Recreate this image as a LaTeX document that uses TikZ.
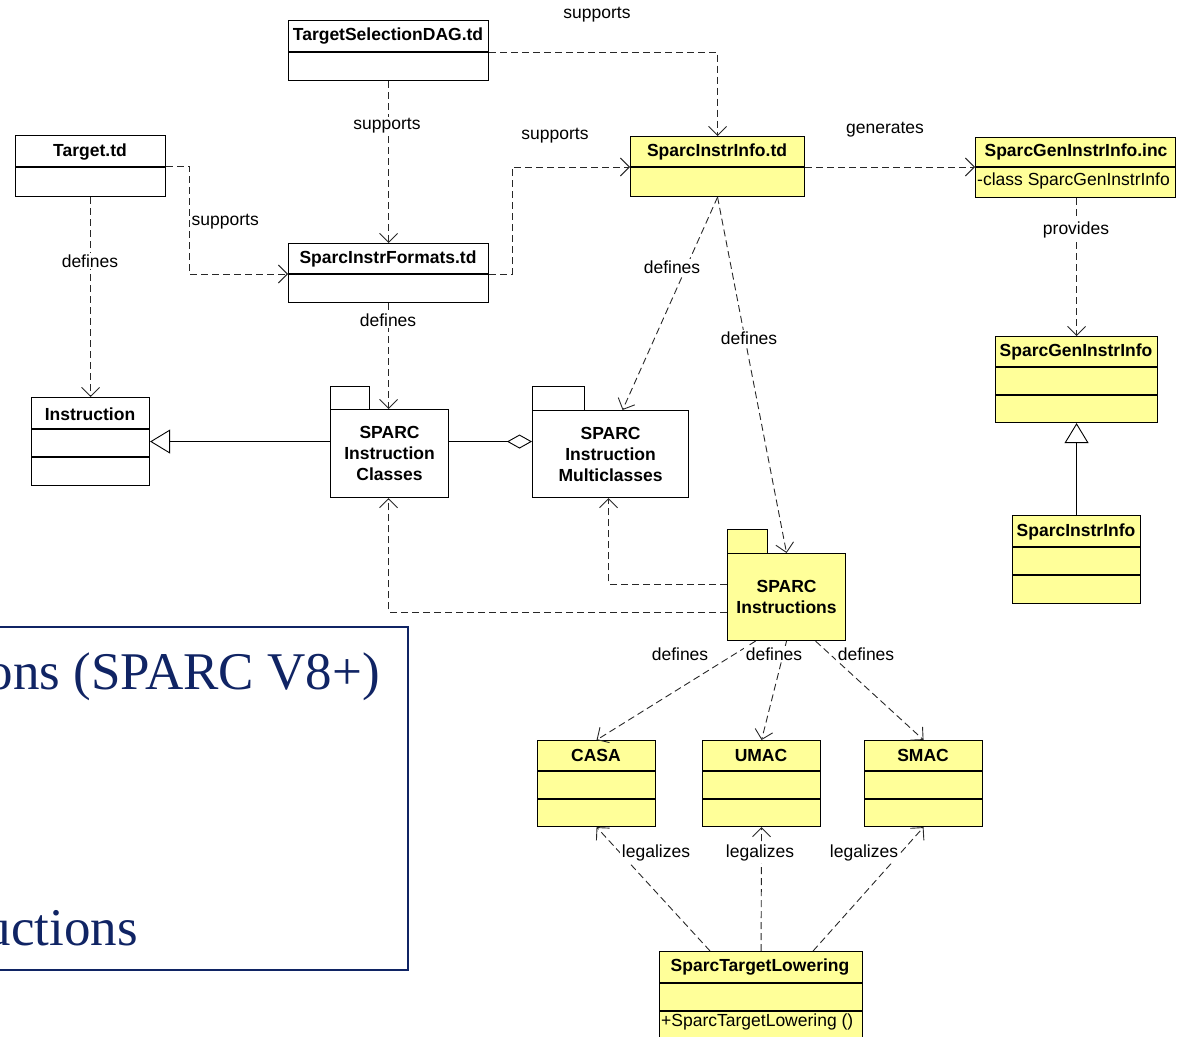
\documentclass[tikz,border=0pt]{standalone}
\usepackage{fontspec}
\setmainfont{Liberation Sans}
\newfontfamily\slideserif{Liberation Serif}
\usetikzlibrary{arrows.meta,calc}
\definecolor{ylw}{RGB}{255,255,153}
\definecolor{navy}{RGB}{16,36,100}
\definecolor{dgray}{RGB}{40,40,40}
\begin{document}
\begin{tikzpicture}[x=1pt,y=-1pt,
  every node/.style={font=\fontsize{17.5}{20}\selectfont},
  box/.style={draw=black, line width=1.1pt, inner sep=0pt, anchor=north west},
  ttl/.style={font=\fontsize{17.5}{20}\selectfont\bfseries, inner sep=0pt},
  pkg/.style={box, align=center, font=\fontsize{17.5}{21}\selectfont\bfseries},
  attr/.style={font=\fontsize{17.5}{20}\selectfont, inner sep=0pt, anchor=west},
  lbl/.style={fill=white, inner sep=1.5pt},
  divline/.style={line width=1.1pt},
  dep/.style={draw=dgray, line width=0.9pt, dash pattern=on 7pt off 4pt,
    -{Straight Barb[length=9pt,width=18pt]}},
  gen/.style={draw=black, line width=0.9pt, -{Triangle[open, length=20pt, width=24pt]}},
  agg/.style={draw=black, line width=0.9pt, -{Diamond[open, length=25pt, width=14pt]}},
]
\useasboundingbox (0,0) rectangle (1177,1036);
\clip (0,0) rectangle (1177,1036);

% ---------- left slide fragment ----------
\node[draw=navy, line width=1.8pt, minimum width=450pt, minimum height=343pt,
  inner sep=0pt, anchor=north east] (slide) at (409,626) {};
\node[anchor=base east, text=navy, inner sep=0pt,
  font=\slideserif\fontsize{53}{60}\selectfont] (slideA) at (380,689) {ons (SPARC V8+)};
\node[anchor=base east, text=navy, inner sep=0pt,
  font=\slideserif\fontsize{53}{60}\selectfont] (slideB) at (138,945) {uctions};

% ---------- class boxes ----------
\node[box, fill=white, minimum width=200pt, minimum height=60pt] (tsdag) at (288,20) {};
\node[ttl] (tsdagT) at (388,36) {TargetSelectionDAG.td};
\draw[divline] (288,52) -- (488,52);

\node[box, fill=white, minimum width=150pt, minimum height=61pt] (target) at (15,135) {};
\node[ttl] (targetT) at (90,152) {Target.td};
\draw[divline] (15,167) -- (165,167);

\node[box, fill=white, minimum width=200pt, minimum height=59pt] (sif) at (288,243) {};
\node[ttl] (sifT) at (388,259) {SparcInstrFormats.td};
\draw[divline] (288,274) -- (488,274);

\node[box, fill=ylw, minimum width=174pt, minimum height=60pt] (sii) at (630,136) {};
\node[ttl] (siiT) at (717,152) {SparcInstrInfo.td};
\draw[divline] (630,167) -- (804,167);

\node[box, fill=ylw, minimum width=200pt, minimum height=60pt] (sgiiinc) at (975,137) {};
\node[ttl] (sgiiincT) at (1076,152) {SparcGenInstrInfo.inc};
\draw[divline] (975,167) -- (1175,167);
\node[attr] (sgiiincA) at (977,181) {-class SparcGenInstrInfo};

\node[box, fill=ylw, minimum width=162pt, minimum height=86pt] (sgii) at (995,336) {};
\node[ttl] (sgiiT) at (1076,352) {SparcGenInstrInfo};
\draw[divline] (995,367) -- (1157,367);
\draw[divline] (995,395) -- (1157,395);

\node[box, fill=ylw, minimum width=128pt, minimum height=88pt] (spii) at (1012,515) {};
\node[ttl] (spiiT) at (1076,532) {SparcInstrInfo};
\draw[divline] (1012,547) -- (1140,547);
\draw[divline] (1012,575) -- (1140,575);

\node[box, fill=white, minimum width=118pt, minimum height=88pt] (instr) at (31,397) {};
\node[ttl] (instrT) at (90,414) {Instruction};
\draw[divline] (31,429) -- (149,429);
\draw[divline] (31,457) -- (149,457);

\node[box, fill=ylw, minimum width=118pt, minimum height=86pt] (casa) at (537,740) {};
\node[ttl] (casaT) at (596,755) {CASA};
\draw[divline] (537,771) -- (655,771);
\draw[divline] (537,799) -- (655,799);

\node[box, fill=ylw, minimum width=118pt, minimum height=86pt] (umac) at (702,740) {};
\node[ttl] (umacT) at (761,755) {UMAC};
\draw[divline] (702,771) -- (820,771);
\draw[divline] (702,799) -- (820,799);

\node[box, fill=ylw, minimum width=118pt, minimum height=86pt] (smac) at (864,740) {};
\node[ttl] (smacT) at (923,755) {SMAC};
\draw[divline] (864,771) -- (982,771);
\draw[divline] (864,799) -- (982,799);

\node[box, fill=ylw, minimum width=203pt, minimum height=100pt] (stl) at (659,951) {};
\node[ttl] (stlT) at (760,967) {SparcTargetLowering};
\draw[divline] (659,983) -- (862,983);
\draw[divline] (659,1011) -- (862,1011);
\node[attr] (stlA) at (661,1022) {+SparcTargetLowering ()};

% ---------- packages ----------
\node[box, fill=white, minimum width=39pt, minimum height=23pt] (clsTab) at (330,386) {};
\node[pkg, fill=white, minimum width=118pt, minimum height=88pt] (cls) at (330,409) {SPARC\\Instruction\\Classes};

\node[box, fill=white, minimum width=52pt, minimum height=24pt] (mclsTab) at (532,386) {};
\node[pkg, fill=white, minimum width=156pt, minimum height=87pt] (mcls) at (532,410) {SPARC\\Instruction\\Multiclasses};

\node[box, fill=ylw, minimum width=40pt, minimum height=24pt] (siTab) at (727,529) {};
\node[pkg, fill=ylw, minimum width=118pt, minimum height=87pt] (si) at (727,553) {SPARC\\Instructions};

% ---------- connectors ----------
\draw[dep] ($(tsdag.north east)+(0,32)$) -| (sii.north);
\draw[dep] (tsdag.south) -- (sif.north);
\draw[dep] ($(target.north east)+(0,31)$) -- ++(23,0) |- ($(sif.north west)+(0,31)$);
\draw[dep] ($(sif.north east)+(0,31)$) -- ++(23,0) |- ($(sii.north west)+(0,31)$);
\draw[dep] ($(sii.north east)+(0,31)$) -- ($(sgiiinc.north west)+(0,30)$);
\draw[dep] ($(sgiiinc.south)+(1,0)$) -- (sgii.north);
\draw[gen] (spii.north) -- (sgii.south);
\draw[dep] (target.south) -- (instr.north);
\draw[gen] (cls.west |- instr.east) -- (instr.east);
\draw[agg] (cls.east |- instr.east) -- (mcls.west |- instr.east);
\draw[dep] (sif.south) -- (sif.south |- cls.north);
\draw[dep] (sii.south) -- ($(mcls.north)+(12,0)$);
\draw[dep] (sii.south) -- (si.north);
\draw[dep] ($(si.north west)+(0,31)$) -| ($(mcls.south)+(-2,0)$);
\draw[dep] ($(si.north west)+(0,59)$) -| ($(cls.south)+(-1,0)$);
\draw[dep] ($(si.south)+(-31,0)$) -- (casa.north);
\draw[dep] (si.south) -- (umac.north);
\draw[dep] ($(si.south)+(29,0)$) -- (smac.north);
\draw[dep] ($(stl.north)+(-51,0)$) -- (casa.south);
\draw[dep] (stl.north) -- (umac.south);
\draw[dep] ($(stl.north)+(52,0)$) -- (smac.south);

% ---------- labels ----------
\node[lbl] (l1) at (597,15) {supports};
\node[lbl] (l2) at (387,126) {supports};
\node[lbl, anchor=west] (l3) at (190,222) {supports};
\node[lbl] (l4) at (555,136) {supports};
\node[lbl] (l5) at (885,130) {generates};
\node[lbl] (l6) at (1076,230) {provides};
\node[lbl] (l7) at (90,261) {defines};
\node[lbl] (l8) at (388,320) {defines};
\node[lbl] (l9) at (672,267) {defines};
\node[lbl] (l10) at (749,338) {defines};
\node[lbl] (l11) at (680,654) {defines};
\node[lbl] (l12) at (774,654) {defines};
\node[lbl] (l13) at (866,654) {defines};
\node[lbl] (l14) at (656,853) {legalizes};
\node[lbl] (l15) at (760,853) {legalizes};
\node[lbl] (l16) at (864,853) {legalizes};
\end{tikzpicture}
\end{document}
